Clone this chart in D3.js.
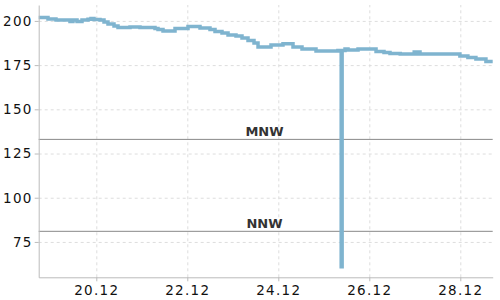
<!DOCTYPE html>
<html>
<head>
<meta charset="utf-8">
<script src="https://cdn.jsdelivr.net/npm/d3@7"></script>
<style>
  body { margin: 0; background: #fff; }
  svg text { font-family: "DejaVu Sans", sans-serif; }
  .grid line { stroke: #ddd; stroke-dasharray: 3,3; }
  .grid .domain { display: none; }
  .axis .domain, .axis line { stroke: #bbb; }
</style>
</head>
<body>
<div class="result"></div>
<script>
// Water level readings (time, value)
const times = [
  '2023-12-18T17:37', '2023-12-18T22:31', '2023-12-19T02:44', '2023-12-19T10:07', '2023-12-19T11:42',
  '2023-12-19T13:50', '2023-12-19T16:27', '2023-12-19T19:37', '2023-12-19T21:12', '2023-12-19T22:47',
  '2023-12-20T01:57', '2023-12-20T04:04', '2023-12-20T06:10', '2023-12-20T09:20', '2023-12-20T11:27',
  '2023-12-20T17:47', '2023-12-20T23:03', '2023-12-21T06:58', '2023-12-21T08:33', '2023-12-21T11:11',
  '2023-12-21T17:31', '2023-12-22T00:22', '2023-12-22T06:42', '2023-12-22T11:58', '2023-12-22T14:37',
  '2023-12-22T18:18', '2023-12-22T21:29', '2023-12-23T01:41', '2023-12-23T04:51', '2023-12-23T08:01',
  '2023-12-23T11:11', '2023-12-23T13:18', '2023-12-23T20:09', '2023-12-24T02:28', '2023-12-24T07:45',
  '2023-12-24T12:30', '2023-12-24T19:53', '2023-12-25T07:26', '2023-12-25T09:10', '2023-12-25T09:40',
  '2023-12-25T11:11', '2023-12-25T12:46', '2023-12-25T18:03', '2023-12-26T03:33', '2023-12-26T07:45',
  '2023-12-26T10:55', '2023-12-26T16:18', '2023-12-26T23:41', '2023-12-27T00:40', '2023-12-27T01:45',
  '2023-12-27T02:45', '2023-12-27T23:47', '2023-12-28T04:00', '2023-12-28T08:14', '2023-12-28T13:31',
  '2023-12-28T17:05'
];
const levels = [
  202.0, 201.1, 200.5, 199.7, 200.5,
  199.7, 200.5, 200.9, 201.4, 200.8,
  200.5, 199.4, 198.3, 197.1, 196.3,
  196.6, 196.3, 195.7, 195.1, 194.3,
  195.7, 196.8, 196.0, 195.1, 194.0,
  193.2, 192.0, 191.5, 190.3, 188.9,
  187.5, 185.2, 186.4, 187.1, 185.2,
  184.1, 183.0, 183.2, 61.0, 183.2,
  184.1, 183.6, 184.1, 182.7, 182.1,
  181.6, 181.3, 182.4, 181.3, 182.4,
  181.3, 180.1, 179.3, 178.4, 177.0,
  177.0
];

// Reference levels
const refNames = ['MNW', 'NNW'];
const refValues = [133, 81];

const yTicks = [75, 100, 125, 150, 175, 200];
const xTickDates = ['2023-12-20', '2023-12-22', '2023-12-24', '2023-12-26', '2023-12-28'];

// Width and height
const w = 500;
const h = 300;
const margin = { top: 5, right: 7.3, bottom: 22.7, left: 38.7 };

const parse = d3.timeParse('%Y-%m-%dT%H:%M');
const parseDay = d3.timeParse('%Y-%m-%d');
const data = times.map(function (t, i) { return { t: parse(t), v: levels[i] }; });

const xScale = d3.scaleTime()
  .domain([parse('2023-12-18T17:37'), parse('2023-12-28T17:05')])
  .range([margin.left, w - margin.right]);

const yScale = d3.scaleLinear()
  .domain([55, 209])
  .range([h - margin.bottom, margin.top]);

const svg = d3.select('.result')
  .append('svg')
  .attr('width', w)
  .attr('height', h);

// Grid
svg.append('g')
  .attr('class', 'grid')
  .attr('transform', 'translate(' + margin.left + ',0)')
  .call(d3.axisLeft(yScale).tickValues(yTicks).tickSize(-(w - margin.left - margin.right)).tickFormat(''));

svg.append('g')
  .attr('class', 'grid')
  .attr('transform', 'translate(0,' + (h - margin.bottom) + ')')
  .call(d3.axisBottom(xScale).tickValues(xTickDates.map(parseDay)).tickSize(-(h - margin.top - margin.bottom)).tickFormat(''));

// Reference lines
refValues.forEach(function (v, i) {
  svg.append('line')
    .attr('x1', margin.left)
    .attr('x2', w - margin.right)
    .attr('y1', yScale(v))
    .attr('y2', yScale(v))
    .attr('stroke', '#888')
    .attr('stroke-width', 1);
  svg.append('text')
    .attr('x', 264.5)
    .attr('y', yScale(v) - 3.5)
    .attr('text-anchor', 'middle')
    .attr('font-size', 13)
    .attr('font-weight', 'bold')
    .attr('fill', '#333')
    .text(refNames[i]);
});

// Line
const line = d3.line()
  .x(function (d) { return xScale(d.t); })
  .y(function (d) { return yScale(d.v); })
  .curve(d3.curveStepAfter);

svg.append('path')
  .datum(data)
  .attr('fill', 'none')
  .attr('stroke', '#7fb4cf')
  .attr('stroke-width', 3.5)
  .attr('d', line);

// Axes
const yAxis = svg.append('g')
  .attr('class', 'axis')
  .attr('transform', 'translate(' + margin.left + ',0)')
  .call(d3.axisLeft(yScale).tickValues(yTicks).tickSize(4).tickSizeOuter(0).tickPadding(2));
yAxis.selectAll('text').attr('font-size', 13.5).attr('letter-spacing', 1.3).attr('fill', '#111');

const xAxis = svg.append('g')
  .attr('class', 'axis')
  .attr('transform', 'translate(0,' + (h - margin.bottom) + ')')
  .call(d3.axisBottom(xScale).tickValues(xTickDates.map(parseDay)).tickFormat(d3.timeFormat('%d.%m')).tickSize(4).tickSizeOuter(0).tickPadding(4));
xAxis.selectAll('text').attr('font-size', 13.5).attr('letter-spacing', 1.3).attr('fill', '#111');
</script>
</body>
</html>
